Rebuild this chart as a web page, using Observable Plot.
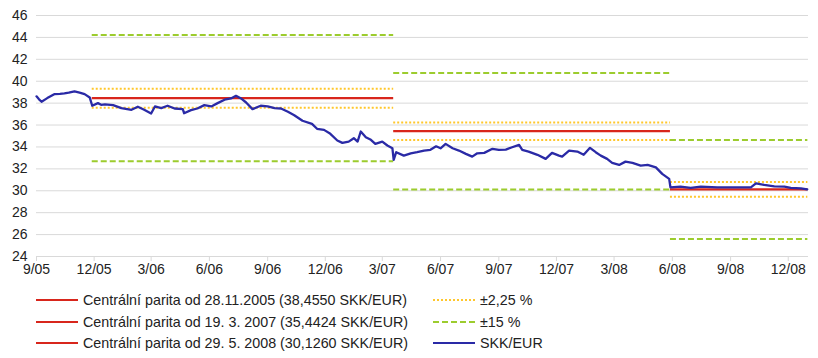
<!DOCTYPE html>
<html><head><meta charset="utf-8">
<script src="https://cdn.jsdelivr.net/npm/d3@7"></script>
<script src="https://cdn.jsdelivr.net/npm/@observablehq/plot@0.6"></script>
<style>
body{margin:0;background:#fff;font-family:"Liberation Sans",Arial,sans-serif;}
#wrap{position:relative;width:818px;height:358px;}
.lg{position:absolute;height:16px;line-height:16px;font-size:14.3px;color:#222;white-space:nowrap;display:flex;align-items:center;}
.lg svg{margin-right:5px;}
</style></head><body><div id="wrap"><div id="chart"></div></div>
<script>
// SKK/EUR exchange rate
const rateDates = ["2005-09-01","2005-09-05","2005-09-09","2005-09-18","2005-09-29","2005-10-08","2005-10-15","2005-10-22","2005-10-31","2005-11-08","2005-11-16","2005-11-24","2005-11-28","2005-12-07","2005-12-12","2005-12-18","2005-12-31",
"2006-01-13","2006-01-29","2006-02-08","2006-02-18","2006-03-01","2006-03-07","2006-03-17","2006-03-27","2006-04-07","2006-04-20","2006-04-22","2006-05-03","2006-05-13","2006-05-24","2006-06-04","2006-06-14","2006-06-25","2006-07-05","2006-07-13","2006-07-21","2006-07-29","2006-08-08","2006-08-21","2006-09-01","2006-09-12","2006-09-22","2006-10-03","2006-10-13","2006-10-26","2006-11-10","2006-11-18","2006-11-29","2006-12-09","2006-12-20","2006-12-28",
"2007-01-07","2007-01-15","2007-01-21","2007-01-26","2007-02-03","2007-02-11","2007-02-18","2007-03-01","2007-03-09","2007-03-17","2007-03-19","2007-03-23","2007-04-04","2007-04-15","2007-04-25","2007-05-06","2007-05-16","2007-05-25","2007-06-01","2007-06-09","2007-06-20","2007-06-30","2007-07-11","2007-07-21","2007-07-29","2007-08-09","2007-08-22","2007-09-01","2007-09-12","2007-09-22","2007-10-03","2007-10-08","2007-10-18","2007-11-01","2007-11-14","2007-11-24","2007-12-05","2007-12-10","2007-12-21",
"2008-01-03","2008-01-13","2008-01-23","2008-02-01","2008-02-09","2008-02-19","2008-02-27","2008-03-09","2008-03-19","2008-03-30","2008-04-12","2008-04-23","2008-05-06","2008-05-16","2008-05-27","2008-05-29","2008-06-14","2008-06-30","2008-07-16","2008-08-11","2008-09-17","2008-10-03","2008-10-11","2008-10-24","2008-11-09","2008-11-25","2008-12-05","2008-12-21","2008-12-31"];
const rateValues = [38.62,38.35,38.13,38.46,38.82,38.85,38.89,38.95,39.07,38.95,38.82,38.52,37.76,38.00,37.85,37.88,37.82,
37.54,37.39,37.67,37.40,37.06,37.70,37.54,37.76,37.51,37.45,37.08,37.36,37.51,37.82,37.70,38.00,38.31,38.43,38.67,38.43,38.06,37.45,37.76,37.70,37.54,37.51,37.21,36.90,36.39,36.11,35.66,35.56,35.20,34.59,34.37,
34.49,34.80,34.49,35.41,34.89,34.65,34.28,34.49,34.13,33.88,32.82,33.52,33.21,33.42,33.52,33.67,33.74,34.06,33.88,34.28,33.88,33.67,33.37,33.12,33.42,33.46,33.83,33.73,33.76,33.97,34.19,33.73,33.58,33.28,32.91,33.46,33.21,33.12,33.67,
33.58,33.28,33.92,33.52,33.21,32.91,32.54,32.36,32.66,32.54,32.30,32.36,32.14,31.54,31.08,30.31,30.38,30.26,30.38,30.31,30.31,30.31,30.68,30.53,30.40,30.38,30.26,30.22,30.13];

// Central parities
const parityLabels = ["Centrální parita od 28.11.2005 (38,4550 SKK/EUR)","Centrální parita od 19. 3. 2007 (35,4424 SKK/EUR)","Centrální parita od 29. 5. 2008 (30,1260 SKK/EUR)"];
const parityStart = ["2005-11-28","2007-03-19","2008-05-29"];
const parityEnd = ["2007-03-19","2008-05-29","2009-01-01"];
const parityValue = [38.455,35.4424,30.126];
const narrowBandPct = 2.25;
const wideBandPct = 15;

const xTicks = ["2005-09-01","2005-12-01","2006-03-01","2006-06-01","2006-09-01","2006-12-01","2007-03-01","2007-06-01","2007-09-01","2007-12-01","2008-03-01","2008-06-01","2008-09-01","2008-12-01"];
const yTicks = [24,26,28,30,32,34,36,38,40,42,44,46];

const C = {red:"#d8261c", blue:"#2a2aa6", yellow:"#ffc72c", green:"#9ccc2e", grid:"#d9d9d9"};

const rate = rateDates.map((d,i)=>({date:new Date(d), value:rateValues[i]}));
const par = parityValue.map((v,i)=>({x1:new Date(parityStart[i]), x2:new Date(parityEnd[i]), v}));
const bands = [];
par.forEach(p=>{
  bands.push({x1:p.x1,x2:p.x2,y:p.v*(1+narrowBandPct/100),k:"n"});
  bands.push({x1:p.x1,x2:p.x2,y:p.v*(1-narrowBandPct/100),k:"n"});
  bands.push({x1:p.x1,x2:p.x2,y:p.v*(1+wideBandPct/100),k:"w"});
  bands.push({x1:p.x1,x2:p.x2,y:p.v*(1-wideBandPct/100),k:"w"});
});
const fmt = d3.utcFormat("%-m/%y");

const chart = Plot.plot({
  width:818, height:282,
  marginLeft:36, marginRight:10, marginTop:15, marginBottom:26,
  style:{fontFamily:"'Liberation Sans', Arial, sans-serif", fontSize:"14px", color:"#222", background:"#fff"},
  x:{type:"utc", domain:[new Date("2005-09-01"), new Date("2009-01-02")]},
  y:{domain:[24,46]},
  marks:[
    Plot.ruleY(yTicks.filter(t=>t>24), {stroke:C.grid, strokeWidth:1}),
    Plot.ruleY([24], {stroke:C.grid, strokeWidth:1}),
    Plot.axisX({ticks:xTicks.map(d=>new Date(d)), tickFormat:fmt, tickSize:5, tickPadding:3, stroke:C.grid, label:null, fill:"#222"}),
    Plot.axisY({ticks:yTicks, tickSize:0, tickPadding:9, label:null, fill:"#222"}),
    Plot.ruleY(bands.filter(b=>b.k==="w"), {x1:"x1", x2:"x2", y:"y", stroke:C.green, strokeWidth:2, strokeDasharray:"6,3"}),
    Plot.ruleY(bands.filter(b=>b.k==="n"), {x1:"x1", x2:"x2", y:"y", stroke:C.yellow, strokeWidth:2, strokeDasharray:"2,2"}),
    Plot.ruleY(par, {x1:"x1", x2:"x2", y:"v", stroke:C.red, strokeWidth:2.2}),
    Plot.line(rate, {x:"date", y:"value", stroke:C.blue, strokeWidth:2.3, curve:"linear"})
  ]
});
document.getElementById("chart").appendChild(chart);

// Legend
const wrap = document.getElementById("wrap");
function swatch(color, dash){
  return `<svg width="42" height="16"><line x1="0" y1="8" x2="42" y2="8" stroke="${color}" stroke-width="2" ${dash?`stroke-dasharray="${dash}"`:""}/></svg>`;
}
const legendItems = [
  {x:36, y:300, color:C.red, dash:null, text:parityLabels[0]},
  {x:36, y:321.5, color:C.red, dash:null, text:parityLabels[1]},
  {x:36, y:342.5, color:C.red, dash:null, text:parityLabels[2]},
  {x:433, y:300, color:C.yellow, dash:"2,2", text:"±2,25 %"},
  {x:433, y:321.5, color:C.green, dash:"6,3", text:"±15 %"},
  {x:433, y:342.5, color:C.blue, dash:null, text:"SKK/EUR"}
];
legendItems.forEach(it=>{
  const d = document.createElement("div");
  d.className = "lg";
  d.style.left = it.x+"px";
  d.style.top = (it.y-8)+"px";
  d.innerHTML = swatch(it.color, it.dash) + `<span>${it.text}</span>`;
  wrap.appendChild(d);
});
</script>
</body></html>
